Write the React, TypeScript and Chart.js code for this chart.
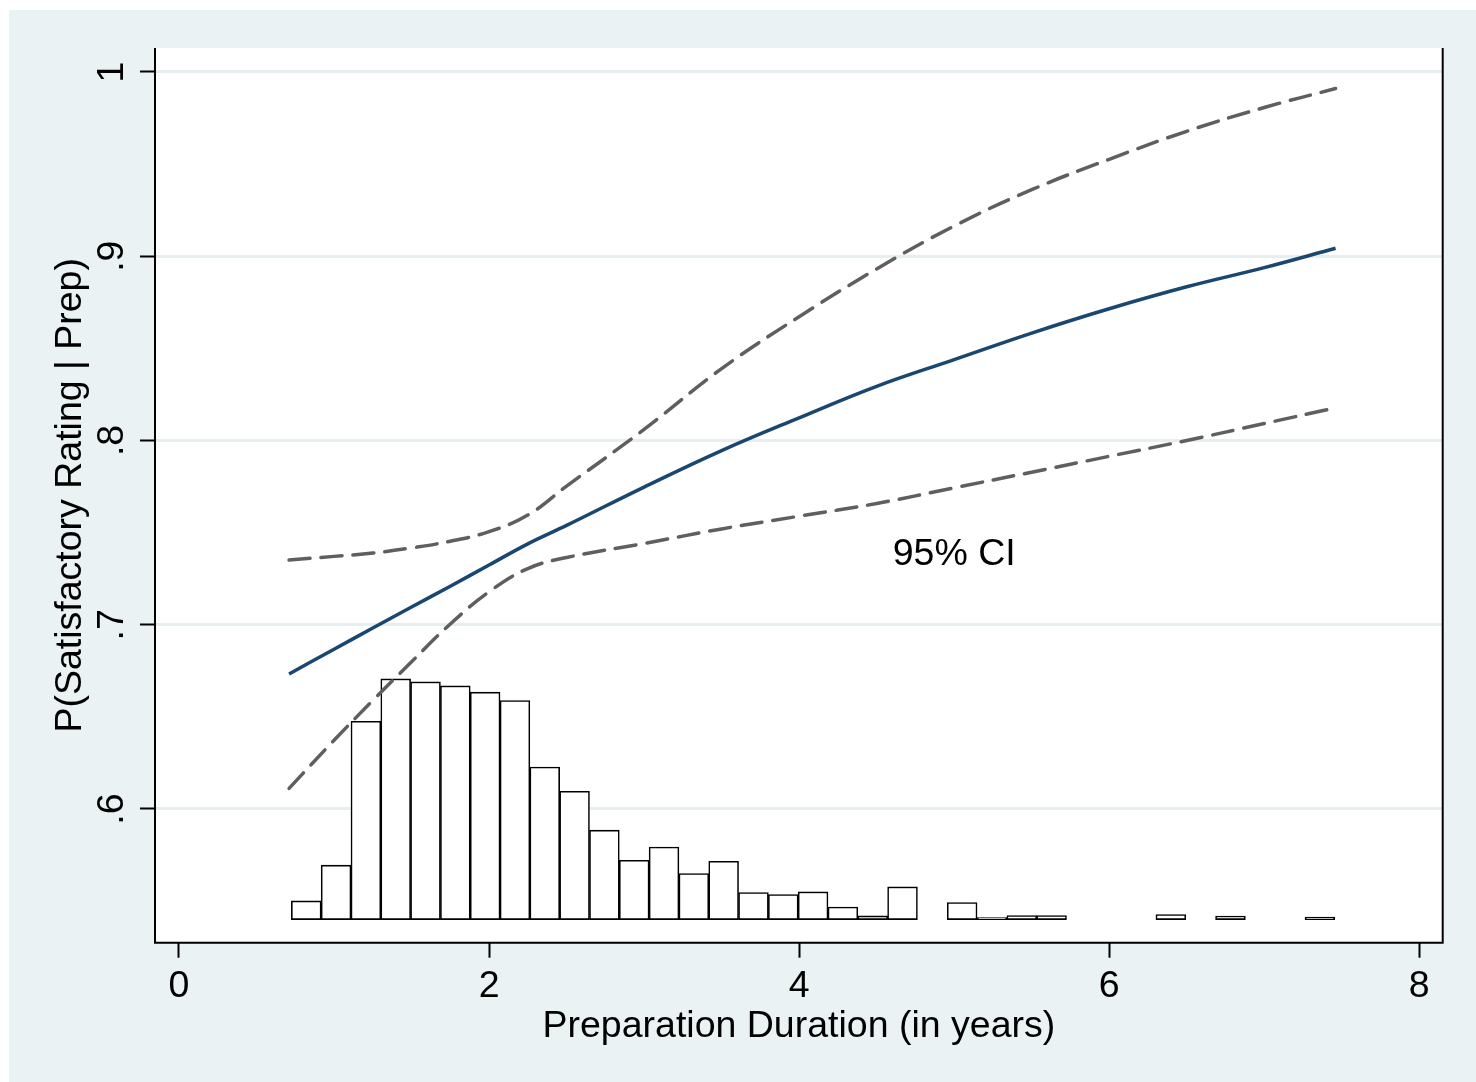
import { useEffect, useRef } from 'react';
import { Chart, registerables } from 'chart.js';

Chart.register(...registerables);

const FONT = '"Liberation Sans", Arial, Helvetica, sans-serif';

// Fitted probability and 95% CI (x in years)
const xValues = [0.71, 1.0, 1.25, 1.5, 1.75, 2.0, 2.25, 2.5, 3.0, 3.5, 4.0, 4.5, 5.0, 5.5, 6.0, 6.5, 7.0, 7.46];
const fittedProb = [0.6733, 0.6867, 0.6982, 0.7096, 0.7209, 0.7324, 0.7439, 0.7539, 0.7747, 0.7945, 0.8123, 0.8294, 0.8439, 0.8583, 0.8715, 0.8834, 0.8938, 0.9043];
const ciUpper = [0.7351, 0.7371, 0.7389, 0.7417, 0.7453, 0.7505, 0.7595, 0.7752, 0.806, 0.839, 0.8672, 0.8931, 0.9164, 0.9361, 0.9526, 0.9678, 0.9807, 0.991];
const ciLower = [0.6112, 0.6373, 0.6589, 0.6799, 0.7004, 0.7179, 0.7305, 0.7365, 0.7441, 0.752, 0.7589, 0.7658, 0.7743, 0.7828, 0.7914, 0.8, 0.8092, 0.8177];

// Histogram of preparation duration (bin centers, heights in y-axis units above base)
const histBinCenters = [
  0.8208, 1.0131, 1.2054, 1.3977, 1.59, 1.7823, 1.9746, 2.1669, 2.3592, 2.5515,
  2.7438, 2.9361, 3.1284, 3.3207, 3.513, 3.7053, 3.8976, 4.0899, 4.2822, 4.4745,
  4.6668, 4.8591, 5.0514, 5.2437, 5.436, 5.6283, 5.8206, 6.0129, 6.2052, 6.3975,
  6.5898, 6.7821, 6.9744, 7.1667, 7.359,
];
const histHeights = [
  0.0101, 0.0295, 0.1076, 0.1306, 0.129, 0.1268, 0.1234, 0.1189, 0.0828, 0.0696,
  0.0485, 0.0322, 0.0394, 0.025, 0.0316, 0.0147, 0.0136, 0.015, 0.0068, 0.002,
  0.0177, 0, 0.0092, 0.0011, 0.0022, 0.0022, 0, 0, 0, 0.0027,
  0, 0.0019, 0, 0, 0.0014,
];
const histBase = 0.54;

const xTickValues = [0, 2, 4, 6, 8];
const xTickLabels = ['0', '2', '4', '6', '8'];
const yTickValues = [0.6, 0.7, 0.8, 0.9, 1];
const yTickLabels = ['.6', '.7', '.8', '.9', '1'];

const xAxisTitle = 'Preparation Duration (in years)';
const yAxisTitle = 'P(Satisfactory Rating | Prep)';
const ciLabelText = '95% CI';
const ciLabelX = 5;
const ciLabelY = 0.738;

const labelFor = (vals: number[], labels: string[], v: number) => {
  const i = vals.findIndex((t) => Math.abs(t - v) < 1e-9);
  return i >= 0 ? labels[i] : '';
};

const stataPlugin = {
  id: 'stataLook',
  beforeDraw(chart: any) {
    const { ctx, chartArea: a, width, height } = chart;
    ctx.save();
    ctx.fillStyle = '#eaf2f3';
    ctx.fillRect(0, 0, width, height);
    ctx.fillStyle = '#ffffff';
    ctx.fillRect(a.left, a.top, a.right - a.left, a.bottom - a.top);
    ctx.restore();
  },
  afterDatasetsDraw(chart: any) {
    const { ctx, chartArea: a, scales } = chart;
    ctx.save();
    ctx.fillStyle = '#000';
    ctx.font = `37.5px ${FONT}`;
    ctx.textAlign = 'center';
    ctx.textBaseline = 'middle';
    ctx.fillText(ciLabelText, scales.x.getPixelForValue(ciLabelX), scales.y.getPixelForValue(ciLabelY));
    ctx.strokeStyle = '#000';
    ctx.lineWidth = 2;
    ctx.beginPath();
    ctx.moveTo(a.left, a.top);
    ctx.lineTo(a.left, a.bottom);
    ctx.lineTo(a.right, a.bottom);
    ctx.lineTo(a.right, a.top);
    ctx.stroke();
    ctx.restore();
  },
};

export default function App() {
  const ref = useRef<HTMLCanvasElement | null>(null);

  useEffect(() => {
    if (!ref.current) return;
    const histData = histBinCenters
      .map((c, i) => (histHeights[i] > 0 ? { x: c, y: [histBase, histBase + histHeights[i]] } : null))
      .filter((d) => d !== null);

    const lineCommon = {
      type: 'line' as const,
      pointRadius: 0,
      borderWidth: 3.5,
      fill: false,
      tension: 0.4,
      order: 0,
    };

    const chart = new Chart(ref.current, {
      type: 'bar',
      data: {
        datasets: [
          {
            ...lineCommon,
            label: 'Upper CI',
            data: xValues.map((x, i) => ({ x, y: ciUpper[i] })),
            borderColor: '#5f5f5f',
            borderDash: [21, 11],
            borderCapStyle: 'round',
          },
          {
            ...lineCommon,
            label: 'Lower CI',
            data: xValues.map((x, i) => ({ x, y: ciLower[i] })),
            borderColor: '#5f5f5f',
            borderDash: [21, 11],
            borderCapStyle: 'round',
          },
          {
            ...lineCommon,
            label: 'P(Satisfactory Rating | Prep)',
            data: xValues.map((x, i) => ({ x, y: fittedProb[i] })),
            borderColor: '#1a476f',
          },
          {
            type: 'bar',
            label: 'Histogram',
            data: histData as any,
            backgroundColor: '#ffffff',
            borderColor: '#000000',
            borderWidth: 1.6,
            borderSkipped: false,
            barPercentage: 1,
            categoryPercentage: 1,
            order: 1,
          } as any,
        ],
      },
      options: {
        animation: false,
        responsive: false,
        layout: { padding: { top: 38, right: 33.3, left: 0, bottom: 0 } },
        plugins: {
          legend: { display: false },
          tooltip: { enabled: false },
        },
        scales: {
          x: {
            type: 'linear',
            min: -0.1548,
            max: 8.151,
            offset: false,
            grid: {
              offset: false,
              drawOnChartArea: false,
              drawTicks: true,
              tickLength: 15,
              tickColor: '#000',
              tickWidth: 2,
            },
            border: { display: false },
            afterBuildTicks: (scale: any) => {
              scale.ticks = xTickValues.map((v) => ({ value: v }));
            },
            afterFit: (scale: any) => {
              scale.height = 139.3;
            },
            ticks: {
              autoSkip: false,
              maxRotation: 0,
              minRotation: 0,
              padding: 6,
              color: '#000',
              font: { family: FONT, size: 37.5 },
              callback: (v: any) => labelFor(xTickValues, xTickLabels, Number(v)),
            },
            title: {
              display: true,
              text: xAxisTitle,
              color: '#000',
              font: { family: FONT, size: 37.5 },
              padding: { top: 0, bottom: 33 },
            },
          },
          y: {
            type: 'linear',
            min: 0.52744,
            max: 1.013,
            grid: {
              color: '#e6eef0',
              lineWidth: 3,
              drawTicks: true,
              tickLength: 15,
              tickColor: '#000',
              tickWidth: 2,
            },
            border: { display: false },
            afterBuildTicks: (scale: any) => {
              scale.ticks = yTickValues.map((v) => ({ value: v }));
            },
            afterFit: (scale: any) => {
              scale.width = 146;
            },
            ticks: {
              autoSkip: false,
              minRotation: 90,
              maxRotation: 90,
              crossAlign: 'center',
              padding: 12,
              color: '#000',
              font: { family: FONT, size: 37.5 },
              callback: (v: any) => labelFor(yTickValues, yTickLabels, Number(v)),
            },
            title: {
              display: true,
              text: yAxisTitle,
              color: '#000',
              font: { family: FONT, size: 37.5 },
              padding: { top: 39, bottom: 0 },
            },
          },
        },
      },
      plugins: [stataPlugin],
    });

    return () => chart.destroy();
  }, []);

  return (
    <div style={{ position: 'absolute', left: 9, top: 10, width: 1467, height: 1072 }}>
      <canvas ref={ref} width={1467} height={1072} style={{ display: 'block', width: 1467, height: 1072 }} />
    </div>
  );
}
